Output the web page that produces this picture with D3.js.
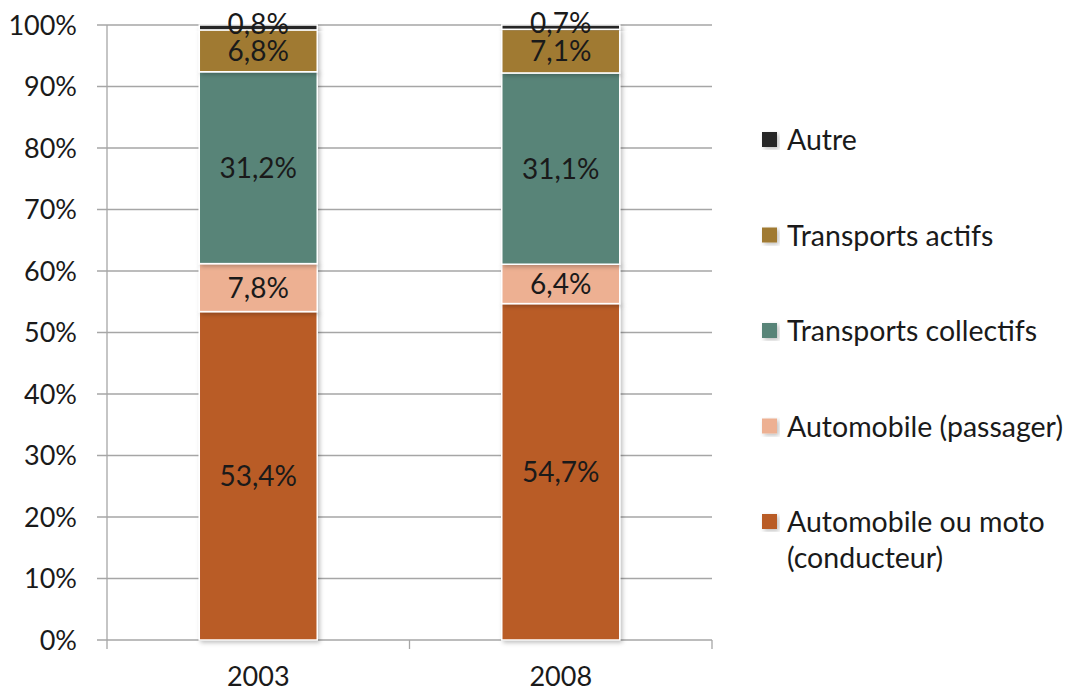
<!DOCTYPE html>
<html>
<head>
<meta charset="utf-8">
<script src="https://cdn.jsdelivr.net/npm/d3@7"></script>
<style>
  body { margin: 0; background: #fff; }
  svg { display: block; font-family: Lato, "Open Sans", sans-serif; }
</style>
</head>
<body>
<svg id="chart" width="1074" height="692"></svg>
<script>
const years = ['2003', '2008']
const series = ['Automobile ou moto (conducteur)', 'Automobile (passager)', 'Transports collectifs', 'Transports actifs', 'Autre']
const conducteur = [53.4, 54.7]
const passager = [7.8, 6.4]
const collectifs = [31.2, 31.1]
const actifs = [6.8, 7.1]
const autre = [0.8, 0.7]
const yTicks = [0, 10, 20, 30, 40, 50, 60, 70, 80, 90, 100]

const colors = ['#b95b28', '#edb092', '#588478', '#a07a32', '#262626']
const values = [conducteur, passager, collectifs, actifs, autre]

const svg = d3.select('#chart')
const margin = {left: 107, right: 362, top: 25, bottom: 52}
const width = 1074 - margin.left - margin.right
const height = 692 - margin.top - margin.bottom

const g = svg.append('g').attr('transform', `translate(${margin.left},${margin.top})`)

const x = d3.scaleBand().domain(years).range([0, width]).paddingInner(0.61).paddingOuter(0.305)
const x0 = d3.scaleBand().domain(years).range([0, width])
const y = d3.scaleLinear().domain([0, 100]).range([height, 0])

// gridlines
g.append('g')
  .selectAll('line')
  .data(yTicks)
  .join('line')
  .attr('x1', -10).attr('x2', width)
  .attr('y1', d => y(d)).attr('y2', d => y(d))
  .attr('stroke', '#a6a6a6').attr('stroke-width', 1.3)

// y axis line
g.append('line')
  .attr('x1', 0).attr('x2', 0).attr('y1', 0).attr('y2', height)
  .attr('stroke', '#a6a6a6').attr('stroke-width', 1.3)

// x axis category ticks
g.append('g')
  .selectAll('line')
  .data([0, 1, 2])
  .join('line')
  .attr('x1', i => i * x0.step()).attr('x2', i => i * x0.step())
  .attr('y1', height).attr('y2', height + 9)
  .attr('stroke', '#a6a6a6').attr('stroke-width', 1.3)

// y tick labels
g.append('g')
  .selectAll('text')
  .data(yTicks)
  .join('text')
  .attr('x', -30).attr('y', d => y(d))
  .attr('dy', '0.36em')
  .attr('text-anchor', 'end')
  .attr('font-size', 27)
  .attr('fill', '#1a1a1a')
  .text(d => d + '%')

// x labels
g.append('g')
  .selectAll('text')
  .data(years)
  .join('text')
  .attr('x', d => x0(d) + x0.bandwidth() / 2)
  .attr('y', height + 46)
  .attr('text-anchor', 'middle')
  .attr('font-size', 27)
  .attr('fill', '#1a1a1a')
  .text(d => d)

// stack
const rows = years.map((yr, i) => {
  const r = {year: yr}
  series.forEach((s, j) => r[s] = values[j][i])
  return r
})
const stacked = d3.stack().keys(series)(rows)

const defs = svg.append('defs')
const filter = defs.append('filter').attr('id', 'shadow').attr('x', '-10%').attr('y', '-10%').attr('width', '130%').attr('height', '130%')
filter.append('feDropShadow').attr('dx', 2).attr('dy', 2).attr('stdDeviation', 2).attr('flood-color', '#000').attr('flood-opacity', 0.25)

const fmt = v => d3.format('.1f')(v).replace('.', ',') + '%'

stacked.forEach((layer, j) => {
  g.append('g')
    .selectAll('rect')
    .data(layer)
    .join('rect')
    .attr('x', d => x(d.data.year))
    .attr('width', x.bandwidth())
    .attr('y', d => y(d[1]))
    .attr('height', d => y(d[0]) - y(d[1]))
    .attr('fill', colors[j])
    .attr('stroke', '#fff')
    .attr('stroke-width', 1.5)
    .attr('filter', 'url(#shadow)')
})

// segment labels; the thin "Autre" label sits on the bar top, as in the source
stacked.forEach((layer, j) => {
  g.append('g')
    .selectAll('text')
    .data(layer)
    .join('text')
    .attr('x', d => x(d.data.year) + x.bandwidth() / 2)
    .attr('y', d => (y(d[0]) + y(d[1])) / 2 - (j === 4 ? 4 : 0))
    .attr('dy', '0.36em')
    .attr('text-anchor', 'middle')
    .attr('font-size', 28)
    .attr('fill', '#1a1a1a')
    .text(d => fmt(d[1] - d[0]))
})

// legend
const legendItems = series.map((s, j) => ({name: s, color: colors[j]})).reverse()
const legendLines = {
  'Automobile ou moto (conducteur)': ['Automobile ou moto', '(conducteur)']
}
const lg = svg.append('g').attr('transform', 'translate(762,0)')
legendItems.forEach((d, i) => {
  const cy = 140 + i * 95.5
  lg.append('rect')
    .attr('x', 0).attr('y', cy - 8).attr('width', 15).attr('height', 15)
    .attr('fill', d.color)
    .attr('filter', 'url(#shadow)')
  const lines = legendLines[d.name] || [d.name]
  const t = lg.append('text')
    .attr('x', 25).attr('y', cy)
    .attr('font-size', 28.5)
    .attr('fill', '#1a1a1a')
  lines.forEach((l, k) => {
    t.append('tspan').attr('x', 25).attr('dy', k === 0 ? '0.36em' : 36).text(l)
  })
})
</script>
</body>
</html>
